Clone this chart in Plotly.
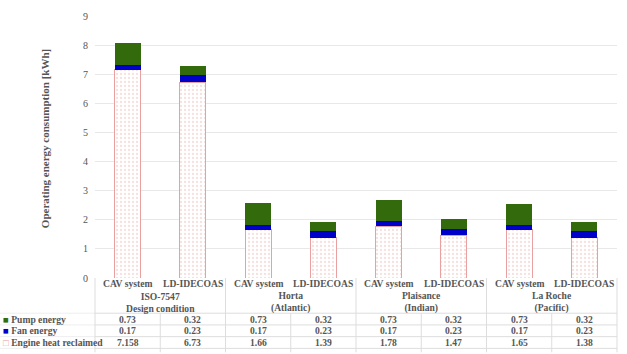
import plotly.graph_objects as go

systems = ["CAV system", "LD-IDECOAS"] * 4
groups = ["ISO-7547<br>Design condition", "Horta<br>(Atlantic)", "Plaisance<br>(Indian)", "La Roche<br>(Pacific)"]
engine_heat = [7.158, 6.73, 1.66, 1.39, 1.78, 1.47, 1.65, 1.38]
fan_energy = [0.17, 0.23, 0.17, 0.23, 0.17, 0.23, 0.17, 0.23]
pump_energy = [0.73, 0.32, 0.73, 0.32, 0.73, 0.32, 0.73, 0.32]
engine_labels = ["7.158", "6.73", "1.66", "1.39", "1.78", "1.47", "1.65", "1.38"]
y_ticks = list(range(0, 10))

W, H = 627, 354
L, R, T, B = 95, 10, 10, 76
pw, ph = W - L - R, H - T - B

def px(xp):
    return (xp - L) / pw

def py(yp):
    return (H - B - yp) / ph

FONT = "Liberation Serif"
TXT = "#555555"
PINK = "#e8a0a0"
GREEN = "#336b0c"
BLUE = "#0000c8"
FS = 9.6

xs = list(range(len(systems)))
fig = go.Figure()
fig.add_trace(go.Bar(x=xs, y=engine_heat, name="Engine heat reclaimed", width=0.4,
                     marker=dict(color="white", line=dict(color=PINK, width=1),
                                 pattern=dict(shape=".", fgcolor="#f0c0c0", bgcolor="white", size=4, solidity=0.25))))
fig.add_trace(go.Bar(x=xs, y=fan_energy, name="Fan energy", width=0.4,
                     marker=dict(color=BLUE, line=dict(width=0))))
fig.add_trace(go.Bar(x=xs, y=pump_energy, name="Pump energy", width=0.4,
                     marker=dict(color=GREEN, line=dict(width=0))))

n = len(systems)
ann = []
shapes = []

def add_text(x, y, text, size=FS, xanchor="center"):
    ann.append(dict(x=x, y=y, xref="paper", yref="paper", text=text, xanchor=xanchor, yanchor="middle",
                    showarrow=False, font=dict(family=FONT, size=size, color=TXT)))

for i, s in enumerate(systems):
    add_text((i + 0.5) / n, py(284), "<b>%s</b>" % s)
for g, name in enumerate(groups):
    add_text((2 * g + 1) / n, py(303), "<b>%s</b>" % name)
rows = [("Pump energy", GREEN, [str(v) for v in pump_energy], 320),
        ("Fan energy", BLUE, [str(v) for v in fan_energy], 332),
        ("Engine heat reclaimed", None, engine_labels, 344)]
for label, col, vals, yy in rows:
    if col:
        sq = "<span style='color:%s'>■</span>" % col
    else:
        sq = "<span style='color:%s'>□</span>" % PINK
    add_text(px(1), py(yy), "%s <b>%s</b>" % (sq, label), xanchor="left")
    for i, v in enumerate(vals):
        add_text((i + 0.5) / n, py(yy), "<b>%s</b>" % v)
LINE = "#dddddd"
for yy in [314, 326, 338, 350]:
    shapes.append(dict(type="line", xref="paper", yref="paper", x0=0, x1=1, y0=py(yy), y1=py(yy),
                       line=dict(color=LINE, width=1)))
    shapes.append(dict(type="line", xref="paper", yref="paper", x0=px(0), x1=0, y0=py(yy), y1=py(yy),
                       line=dict(color="#eeeeee", width=1)))
for k in range(0, n + 1):
    y0 = py(278) if k % 2 == 0 else py(314)
    shapes.append(dict(type="line", xref="paper", yref="paper", x0=k / n, x1=k / n, y0=y0, y1=py(354),
                       line=dict(color=LINE, width=1)))
ann.append(dict(x=px(45), y=py(136), xref="paper", yref="paper", textangle=-90, xanchor="center", yanchor="middle",
                text="<b>Operating energy consumption [kWh]</b>", showarrow=False,
                font=dict(family=FONT, size=11, color=TXT)))

fig.update_layout(
    width=W, height=H, margin=dict(l=L, r=R, t=T, b=B),
    barmode="stack", showlegend=False, plot_bgcolor="white", paper_bgcolor="white",
    xaxis=dict(range=[-0.5, n - 0.5], showticklabels=False, showgrid=False, zeroline=False, showline=False),
    yaxis=dict(range=[0, 9], tickvals=y_ticks, showgrid=True, gridcolor="#e8e8e8", zeroline=False,
               tickfont=dict(family=FONT, size=10, color=TXT), ticks="", ticklabelstandoff=6),
    annotations=ann, shapes=shapes,
)
fig.write_html("out.html")
